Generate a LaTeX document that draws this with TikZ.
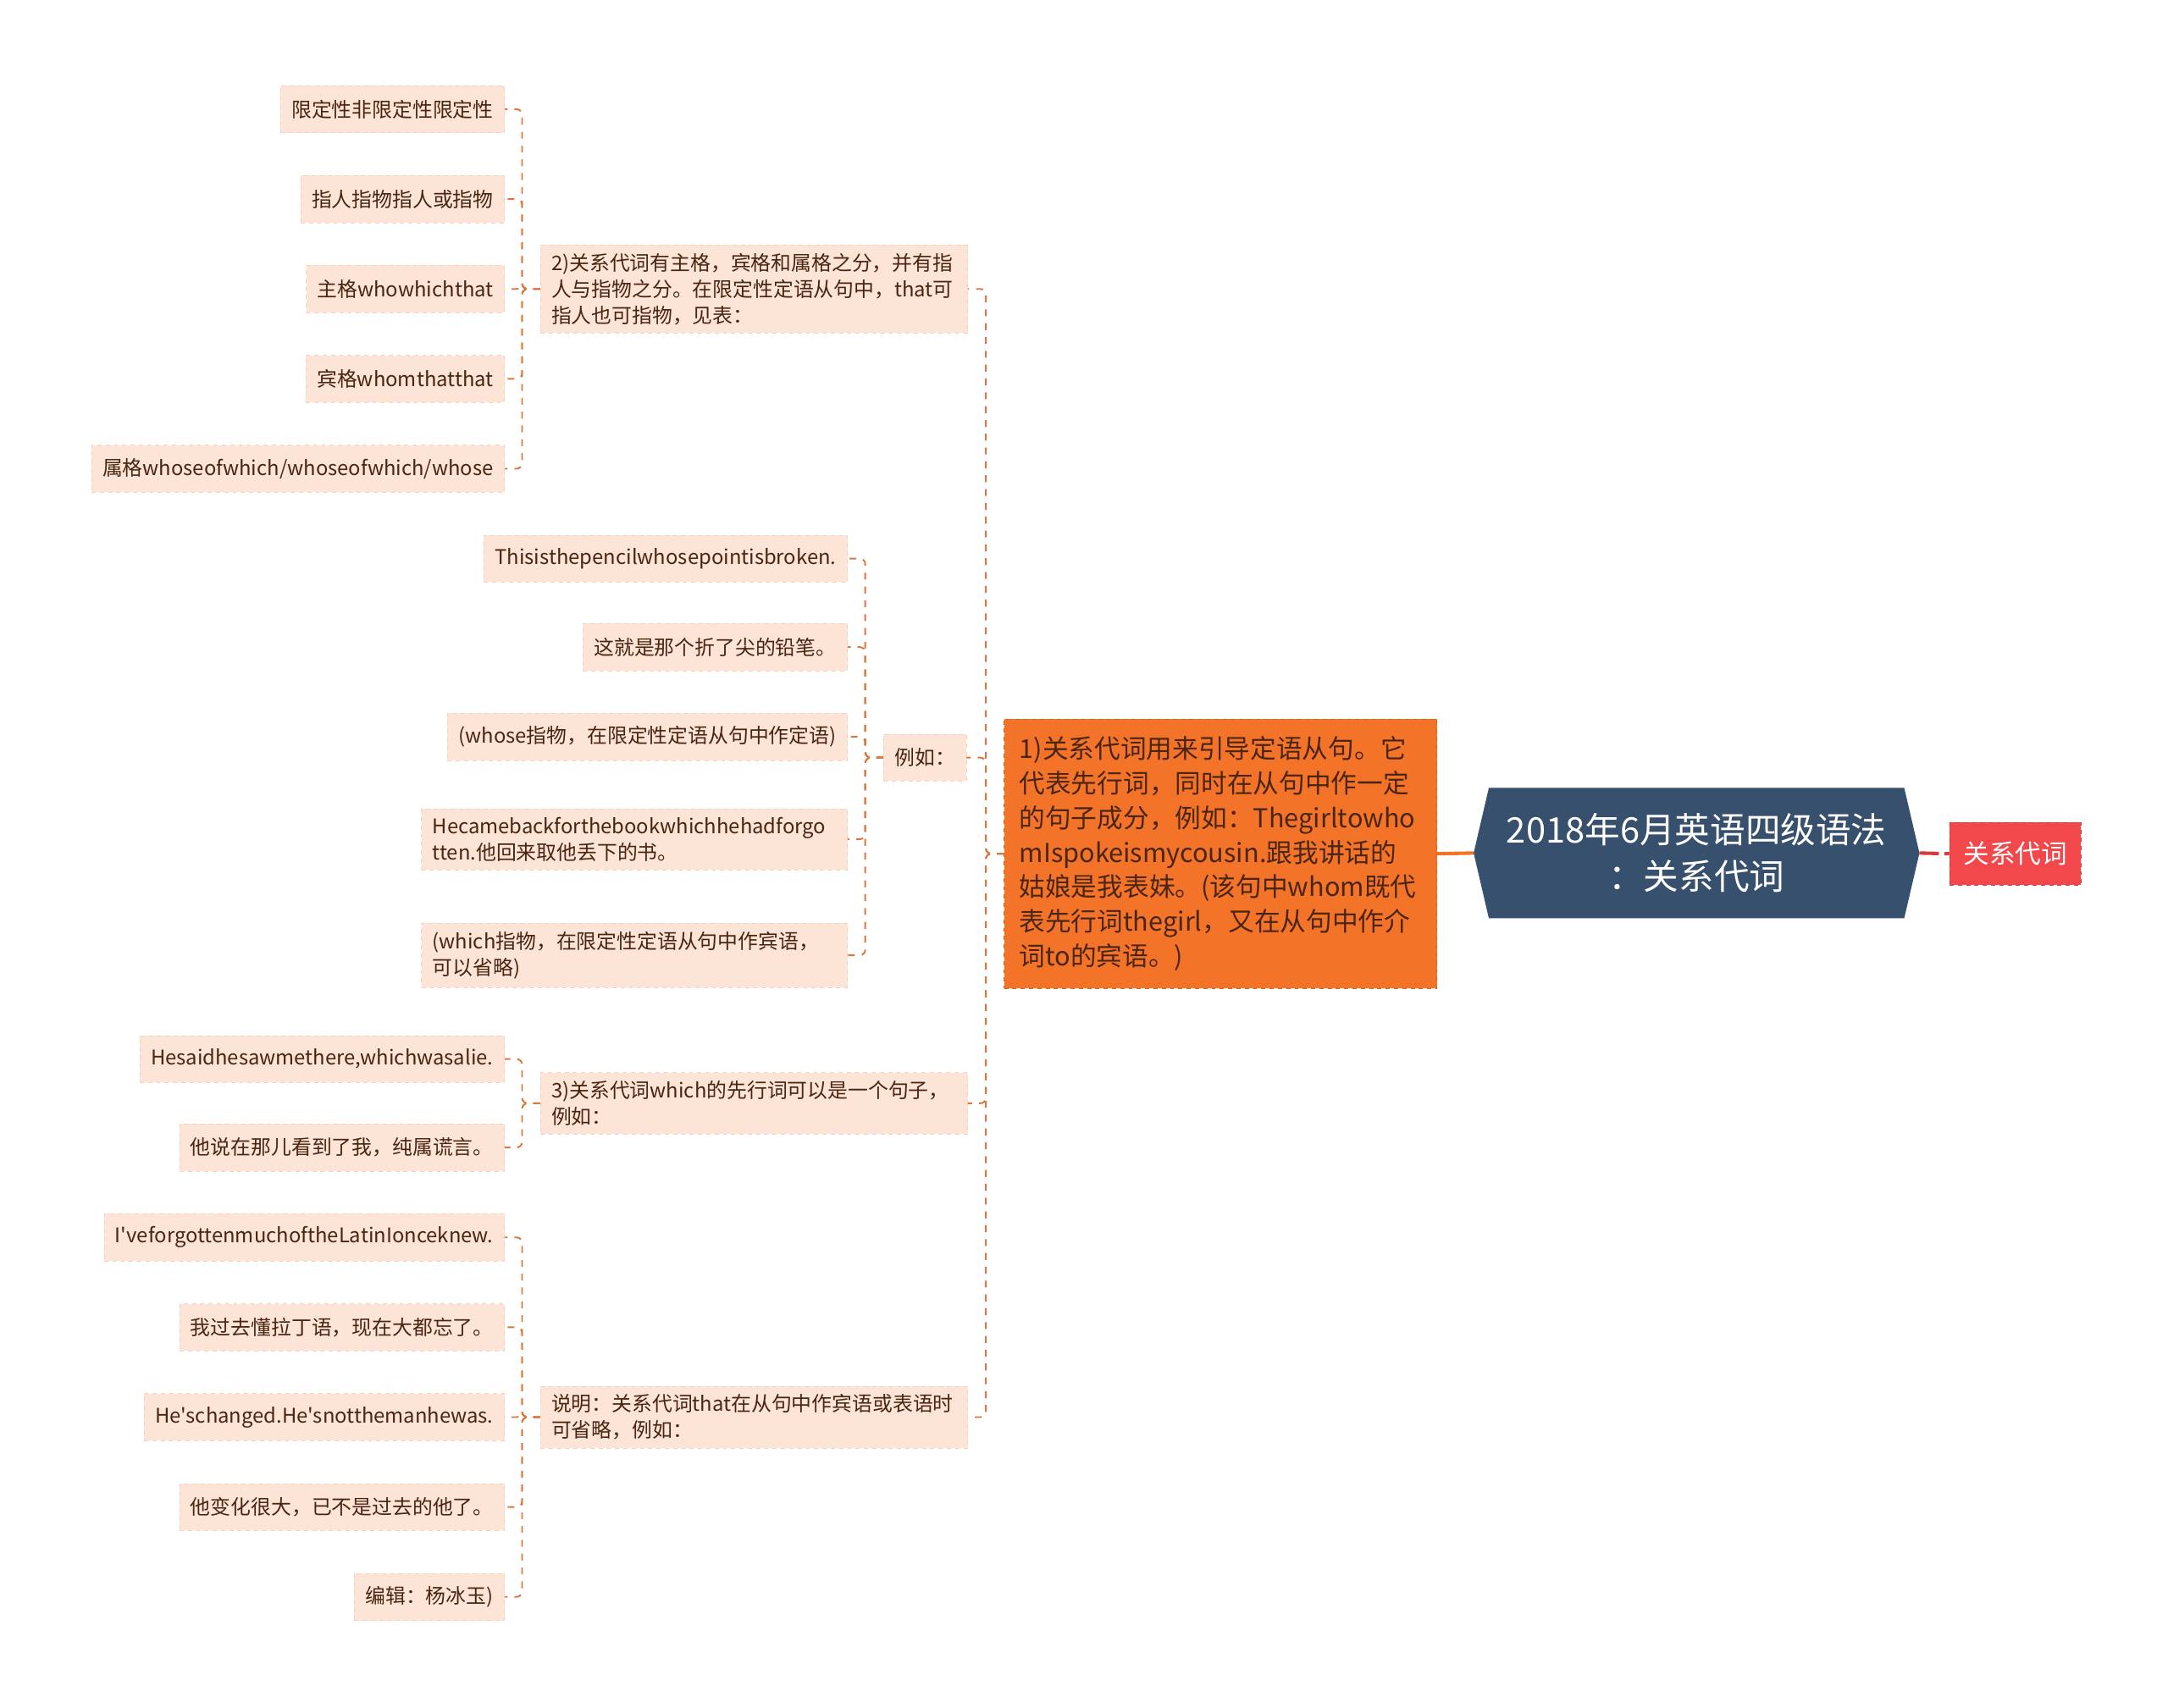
\documentclass[tikz,border=0pt]{standalone}
\usepackage{fontspec}
\setmainfont{Noto Sans CJK SC}[Ligatures=TeXOff]
\usepackage{tikz}
\usetikzlibrary{calc, backgrounds}
\definecolor{pfirsich}{HTML}{FCE4D6}
\definecolor{pfrand}{HTML}{F6D2BE}
\definecolor{braun}{HTML}{4A2511}
\definecolor{linie}{HTML}{D9773F}
\definecolor{orangefill}{HTML}{F37429}
\definecolor{orangerand}{HTML}{DD6018}
\definecolor{wurzel}{HTML}{36506E}
\definecolor{rotfill}{HTML}{F2474B}
\definecolor{rotrand}{HTML}{D63A3E}

\tikzset{
  blatt/.style={fill=pfirsich, draw=pfrand, dashed, text=braun, anchor=east,
    font=\fontsize{14.6}{19}\selectfont, inner xsep=8pt, inner ysep=6pt,
    minimum height=34pt},
  block/.style={blatt, align=left, text width=#1},
  link/.style={draw=linie, line width=1.2pt, dash pattern=on 5pt off 5pt,
    rounded corners=4pt}
}

\begin{document}
\begin{tikzpicture}[x=1pt, y=-1pt]
      \useasboundingbox (0,0) rectangle (1568,1235);

      % --- Mitte: Wurzel und Nachbarn ---
      \node[text=white, align=center, font=\fontsize{25.5}{34}\selectfont,
            minimum width=322pt, minimum height=94pt] (wurzel) at (1227,617)
            {2018年6月英语四级语法\\：关系代词};
      \begin{scope}[on background layer]
        \fill[wurzel] (wurzel.west) -- ($(wurzel.north west)+(11,0)$)
          -- ($(wurzel.north east)+(-11,0)$) -- (wurzel.east)
          -- ($(wurzel.south east)+(-11,0)$) -- ($(wurzel.south west)+(11,0)$) -- cycle;
      \end{scope}
      \node[fill=rotfill, draw=rotrand, dashed, text=white,
            font=\fontsize{18.75}{24}\selectfont,
            minimum width=95pt, minimum height=45pt] (rot) at (1457.5,617.5) {关系代词};
      \node[fill=orangefill, draw=orangerand, dashed, text=braun, anchor=west,
            align=left, text width=291pt, inner xsep=11pt,
            font=\fontsize{18.8}{25}\selectfont, minimum height=195pt]
            (haupt) at (726,617.5)
            {1)关系代词用来引导定语从句。它\\代表先行词，同时在从句中作一定\\的句子成分，例如：Thegirltowho\\mIspokeismycousin.跟我讲话的\\姑娘是我表妹。(该句中whom既代\\表先行词thegirl，又在从句中作介\\词to的宾语。)};

      % --- zweite Ebene ---
      \node[block=293pt] (zwei) at (700,209)
        {2)关系代词有主格，宾格和属格之分，并有指\\人与指物之分。在限定性定语从句中，that可\\指人也可指物，见表：};
      \node[blatt] (bsp) at (699,548) {例如：};
      \node[block=293pt] (drei) at (700,798)
        {3)关系代词which的先行词可以是一个句子，\\例如：};
      \node[block=293pt] (erkl) at (700,1025)
        {说明：关系代词that在从句中作宾语或表语时\\可省略，例如：};

      % --- Blätter zu 2) ---
      \node[blatt] (z1) at (365,79) {限定性非限定性限定性};
      \node[blatt] (z2) at (365,144) {指人指物指人或指物};
      \node[blatt] (z3) at (365,209) {主格whowhichthat};
      \node[blatt] (z4) at (365,274) {宾格whomthatthat};
      \node[blatt] (z5) at (365,339) {属格whoseofwhich/whoseofwhich/whose};

      % --- Blätter zu Beispiel ---
      \node[blatt] (b1) at (613,404) {Thisisthepencilwhosepointisbroken.};
      \node[blatt] (b2) at (613,468) {这就是那个折了尖的铅笔。};
      \node[blatt] (b3) at (613,533) {(whose指物，在限定性定语从句中作定语)};
      \node[block=292pt] (b4) at (613,607)
        {Hecamebackforthebookwhichhehadforgo\\tten.他回来取他丢下的书。};
      \node[block=292pt] (b5) at (613,691)
        {(which指物，在限定性定语从句中作宾语，\\可以省略)};

      % --- Blätter zu 3) ---
      \node[blatt] (d1) at (365,766) {Hesaidhesawmethere,whichwasalie.};
      \node[blatt] (d2) at (365,830) {他说在那儿看到了我，纯属谎言。};

      % --- Blätter zu Erklärung ---
      \node[blatt] (e1) at (365,895) {I'veforgottenmuchoftheLatinIonceknew.};
      \node[blatt] (e2) at (365,960) {我过去懂拉丁语，现在大都忘了。};
      \node[blatt] (e3) at (365,1025) {He'schanged.He'snotthemanhewas.};
      \node[blatt] (e4) at (365,1090) {他变化很大，已不是过去的他了。};
      \node[blatt] (e5) at (365,1155) {编辑：杨冰玉)};

      % Verbindungen
      \draw[orangefill, line width=2.5pt] (haupt.east) -- (wurzel.west);
      \draw[rotrand, line width=2.5pt, dash pattern=on 14pt off 4pt] (wurzel.east) -- (rot.west);
      \foreach \k in {zwei,bsp,drei,erkl}
        \draw[link] (haupt.west) -- ++(-13,0) |- (\k.east);
      \foreach \k in {z1,z2,z3,z4,z5}
        \draw[link] (zwei.west) -- ++(-13,0) |- (\k.east);
      \foreach \k in {b1,b2,b3,b4,b5}
        \draw[link] (bsp.west) -- ++(-13,0) |- (\k.east);
      \foreach \k in {d1,d2}
        \draw[link] (drei.west) -- ++(-13,0) |- (\k.east);
      \foreach \k in {e1,e2,e3,e4,e5}
        \draw[link] (erkl.west) -- ++(-13,0) |- (\k.east);
\end{tikzpicture}
\end{document}
